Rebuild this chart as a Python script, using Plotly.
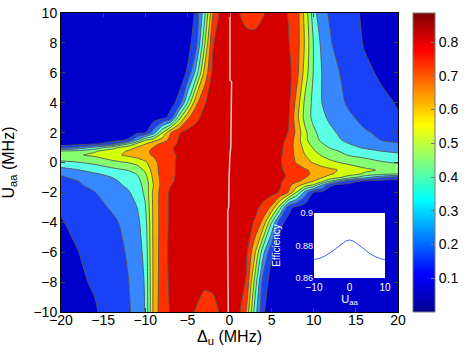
import plotly.graph_objects as go

# ---------------- data ----------------
delta_u = [-20, -18, -16, -14, -12, -11, -10, -9, -8, -7, -6, -5, -4, -3, -2, -1,
           0, 1, 2, 3, 4, 5, 6, 7, 8, 9, 10, 11, 12, 14, 16, 18, 20]
u_aa = [-10, -8, -6, -4, -3, -2, -1.5, -1.25, -1, -0.75, -0.5, 0,
        0.5, 0.75, 1, 1.25, 1.5, 2, 3, 4, 6, 8, 10]

row_m10 = [0.055, 0.075, 0.09, 0.14, 0.19, 0.23, 0.305, 0.63, 0.765, 0.805, 0.835, 0.82, 0.795, 0.775, 0.775, 0.81,
           0.845, 0.83, 0.69, 0.36, 0.11, 0.05, 0.035, 0.03, 0.03, 0.03, 0.03, 0.03, 0.03, 0.03, 0.03, 0.03, 0.03]
row_m8 = [0.065, 0.085, 0.11, 0.15, 0.198, 0.24, 0.31, 0.63, 0.755, 0.815, 0.84, 0.845, 0.83, 0.81, 0.815, 0.845,
          0.86, 0.85, 0.79, 0.47, 0.15, 0.06, 0.035, 0.03, 0.03, 0.03, 0.03, 0.03, 0.03, 0.03, 0.03, 0.03, 0.03]
row_m6 = [0.08, 0.098, 0.13, 0.16, 0.21, 0.25, 0.33, 0.63, 0.75, 0.825, 0.84, 0.85, 0.86, 0.865, 0.87, 0.87,
          0.87, 0.86, 0.82, 0.62, 0.33, 0.11, 0.05, 0.035, 0.03, 0.03, 0.03, 0.03, 0.03, 0.03, 0.03, 0.03, 0.03]
row_m4 = [0.095, 0.12, 0.15, 0.18, 0.23, 0.27, 0.36, 0.63, 0.745, 0.82, 0.84, 0.85, 0.86, 0.87, 0.875, 0.875,
          0.875, 0.865, 0.845, 0.79, 0.67, 0.405, 0.125, 0.07, 0.045, 0.035, 0.03, 0.03, 0.03, 0.03, 0.03, 0.03, 0.03]
row_m3 = [0.11, 0.14, 0.17, 0.21, 0.26, 0.298, 0.39, 0.63, 0.745, 0.82, 0.84, 0.85, 0.86, 0.87, 0.875, 0.875,
          0.875, 0.87, 0.855, 0.83, 0.77, 0.68, 0.45, 0.13, 0.07, 0.045, 0.035, 0.03, 0.03, 0.03, 0.03, 0.03, 0.03]
row_m2 = [0.14, 0.17, 0.198, 0.24, 0.29, 0.34, 0.42, 0.63, 0.745, 0.815, 0.83, 0.84, 0.855, 0.865, 0.87, 0.875,
          0.875, 0.87, 0.865, 0.86, 0.85, 0.83, 0.79, 0.695, 0.49, 0.25, 0.09, 0.075, 0.06, 0.04, 0.035, 0.03, 0.03]
row_m1p5 = [0.16, 0.19, 0.225, 0.265, 0.32, 0.36, 0.43, 0.605, 0.735, 0.795, 0.825, 0.84, 0.855, 0.865, 0.87, 0.875,
            0.875, 0.875, 0.87, 0.865, 0.855, 0.84, 0.81, 0.73, 0.64, 0.56, 0.49, 0.305, 0.11, 0.07, 0.05, 0.04, 0.035]
row_m1p25 = [0.17, 0.198, 0.24, 0.28, 0.33, 0.37, 0.44, 0.62, 0.735, 0.785, 0.82, 0.84, 0.855, 0.865, 0.87, 0.875,
             0.875, 0.875, 0.87, 0.865, 0.855, 0.84, 0.81, 0.77, 0.72, 0.66, 0.595, 0.52, 0.395, 0.15, 0.08, 0.06, 0.05]
row_m1 = [0.19, 0.22, 0.26, 0.298, 0.35, 0.38, 0.46, 0.63, 0.735, 0.78, 0.82, 0.84, 0.855, 0.865, 0.87, 0.875,
          0.875, 0.875, 0.87, 0.865, 0.855, 0.84, 0.815, 0.79, 0.76, 0.705, 0.65, 0.605, 0.56, 0.46, 0.33, 0.22, 0.15]
row_m0p75 = [0.21, 0.25, 0.29, 0.33, 0.37, 0.405, 0.49, 0.64, 0.74, 0.78, 0.815, 0.84, 0.855, 0.865, 0.87, 0.875,
             0.875, 0.875, 0.87, 0.865, 0.855, 0.84, 0.815, 0.79, 0.77, 0.72, 0.68, 0.64, 0.61, 0.55, 0.49, 0.44, 0.42]
row_m0p5 = [0.26, 0.295, 0.34, 0.37, 0.405, 0.44, 0.52, 0.65, 0.74, 0.78, 0.815, 0.84, 0.855, 0.865, 0.87, 0.875,
            0.875, 0.875, 0.87, 0.865, 0.855, 0.84, 0.81, 0.78, 0.75, 0.71, 0.68, 0.645, 0.62, 0.57, 0.52, 0.49, 0.47]
row_0 = [0.38, 0.395, 0.42, 0.47, 0.505, 0.53, 0.58, 0.67, 0.74, 0.78, 0.815, 0.84, 0.855, 0.865, 0.87, 0.875,
         0.875, 0.875, 0.875, 0.87, 0.865, 0.84, 0.81, 0.75, 0.69, 0.635, 0.59, 0.55, 0.52, 0.48, 0.445, 0.41, 0.39]
row_p0p5 = [0.47, 0.49, 0.52, 0.57, 0.62, 0.645, 0.68, 0.71, 0.75, 0.78, 0.81, 0.84, 0.855, 0.865, 0.87, 0.875,
            0.875, 0.875, 0.875, 0.875, 0.87, 0.84, 0.815, 0.75, 0.67, 0.598, 0.535, 0.49, 0.46, 0.398, 0.37, 0.345, 0.325]
row_p0p75 = [0.42, 0.44, 0.49, 0.55, 0.61, 0.64, 0.68, 0.72, 0.77, 0.79, 0.815, 0.84, 0.855, 0.865, 0.87, 0.875,
             0.875, 0.875, 0.875, 0.875, 0.87, 0.845, 0.82, 0.75, 0.665, 0.58, 0.51, 0.465, 0.43, 0.37, 0.33, 0.302, 0.28]
row_p1 = [0.15, 0.22, 0.33, 0.46, 0.56, 0.605, 0.65, 0.705, 0.76, 0.79, 0.815, 0.84, 0.855, 0.865, 0.87, 0.875,
          0.875, 0.875, 0.875, 0.875, 0.87, 0.85, 0.825, 0.75, 0.66, 0.565, 0.49, 0.44, 0.39, 0.33, 0.29, 0.26, 0.235]
row_p1p25 = [0.05, 0.06, 0.08, 0.15, 0.395, 0.52, 0.595, 0.66, 0.72, 0.77, 0.81, 0.84, 0.855, 0.865, 0.87, 0.875,
             0.875, 0.875, 0.875, 0.875, 0.87, 0.855, 0.83, 0.755, 0.655, 0.545, 0.455, 0.405, 0.36, 0.305, 0.26, 0.23, 0.21]
row_p1p5 = [0.035, 0.04, 0.05, 0.07, 0.11, 0.3, 0.49, 0.56, 0.64, 0.73, 0.81, 0.84, 0.855, 0.865, 0.87, 0.875,
            0.875, 0.875, 0.875, 0.875, 0.87, 0.86, 0.84, 0.77, 0.65, 0.525, 0.435, 0.38, 0.34, 0.28, 0.24, 0.198, 0.18]
row_p2 = [0.03, 0.03, 0.035, 0.04, 0.06, 0.075, 0.09, 0.25, 0.49, 0.695, 0.79, 0.83, 0.85, 0.86, 0.865, 0.87,
          0.875, 0.875, 0.875, 0.875, 0.875, 0.87, 0.85, 0.795, 0.67, 0.52, 0.42, 0.36, 0.32, 0.26, 0.21, 0.185, 0.165]
row_p3 = [0.03, 0.03, 0.03, 0.03, 0.03, 0.03, 0.035, 0.045, 0.07, 0.13, 0.45, 0.68, 0.77, 0.83, 0.855, 0.87,
          0.875, 0.875, 0.875, 0.875, 0.87, 0.865, 0.855, 0.815, 0.63, 0.46, 0.37, 0.32, 0.28, 0.22, 0.175, 0.135, 0.105]
row_p4 = [0.03, 0.03, 0.03, 0.03, 0.03, 0.03, 0.03, 0.035, 0.045, 0.07, 0.125, 0.4, 0.67, 0.79, 0.845, 0.865,
          0.875, 0.875, 0.875, 0.87, 0.865, 0.86, 0.85, 0.825, 0.66, 0.47, 0.37, 0.298, 0.26, 0.19, 0.145, 0.115, 0.095]
row_p6 = [0.03, 0.03, 0.03, 0.03, 0.03, 0.03, 0.03, 0.03, 0.03, 0.035, 0.05, 0.11, 0.33, 0.62, 0.82, 0.86,
          0.87, 0.87, 0.865, 0.86, 0.86, 0.855, 0.845, 0.835, 0.73, 0.55, 0.39, 0.295, 0.24, 0.165, 0.115, 0.09, 0.075]
row_p8 = [0.03, 0.03, 0.03, 0.03, 0.03, 0.03, 0.03, 0.03, 0.03, 0.03, 0.035, 0.06, 0.15, 0.47, 0.79, 0.85,
          0.86, 0.845, 0.825, 0.82, 0.83, 0.845, 0.84, 0.805, 0.745, 0.58, 0.39, 0.27, 0.205, 0.14, 0.095, 0.075, 0.065]
row_p10 = [0.03, 0.03, 0.03, 0.03, 0.03, 0.03, 0.03, 0.03, 0.03, 0.03, 0.035, 0.05, 0.11, 0.36, 0.69, 0.83,
           0.845, 0.805, 0.775, 0.775, 0.795, 0.82, 0.83, 0.795, 0.745, 0.56, 0.34, 0.22, 0.19, 0.125, 0.09, 0.075, 0.06]

efficiency = [row_m10, row_m8, row_m6, row_m4, row_m3, row_m2, row_m1p5, row_m1p25, row_m1,
              row_m0p75, row_m0p5, row_0, row_p0p5, row_p0p75, row_p1, row_p1p25, row_p1p5,
              row_p2, row_p3, row_p4, row_p6, row_p8, row_p10]

# pale line near zero detuning
ridge_u = [10, 7, 5.5, 5.4, 3, 1, 0.5, 0, -1, -3, -3.2, -6, -10]
ridge_d = [0.05, 0.05, 0.05, 0.25, 0.2, 0.15, 0.05, 0.0, -0.05, -0.1, -0.2, -0.2, -0.15]

# inset curve
inset_u = [-10, -9, -8, -7, -6, -5, -4, -3, -2, -1, 0, 1, 2, 3, 4, 5, 6, 7, 8, 9, 10]
inset_eff = [0.8712, 0.8717, 0.8724, 0.8734, 0.8746, 0.8762, 0.8779, 0.8797, 0.8814, 0.8828, 0.8834,
             0.8828, 0.8814, 0.8797, 0.8779, 0.8762, 0.8746, 0.8734, 0.8724, 0.8717, 0.8712]

x_ticks = [-20, -15, -10, -5, 0, 5, 10, 15, 20]
y_ticks = [-10, -8, -6, -4, -2, 0, 2, 4, 6, 8, 10]
cbar_ticks = [0.1, 0.2, 0.3, 0.4, 0.5, 0.6, 0.7, 0.8]

# ---------------- styles ----------------
band_colors = ["rgb(0,0,205)", "rgb(25,65,245)", "rgb(55,135,255)", "rgb(90,255,230)",
               "rgb(135,255,115)", "rgb(210,255,10)", "rgb(255,172,0)", "rgb(255,50,0)",
               "rgb(212,0,0)"]
edges = [0.0] + [(k + 0.5) / 8 for k in range(8)] + [1.0]
band_scale = []
for k, c in enumerate(band_colors):
    band_scale.append([edges[k], c])
    band_scale.append([edges[k + 1], c])

jet = [[0, "rgb(0,0,143)"], [0.125, "rgb(0,0,255)"], [0.375, "rgb(0,255,255)"],
       [0.625, "rgb(255,255,0)"], [0.875, "rgb(255,0,0)"], [1, "rgb(128,0,0)"]]

FONT = "Liberation Sans, Arial, Helvetica, sans-serif"

fig = go.Figure()
fig.add_trace(go.Contour(
    x=delta_u, y=u_aa, z=efficiency,
    autocontour=False,
    contours=dict(start=0.1, end=0.8, size=0.1, coloring="fill"),
    colorscale=band_scale, zmin=0.05, zmax=0.85,
    line=dict(color="rgb(85,85,85)", width=0.9, smoothing=0.7),
    showscale=False, hoverinfo="skip"))
fig.add_trace(go.Scatter(x=ridge_d, y=ridge_u, mode="lines",
                         line=dict(color="rgb(238,200,200)", width=1.5), hoverinfo="skip"))
fig.add_trace(go.Scatter(
    x=[None], y=[None], mode="markers",
    marker=dict(color=[0.4], cmin=0.0, cmax=0.886, colorscale=jet, showscale=True,
                colorbar=dict(x=1.0445, xanchor="left", y=0.5, yanchor="middle",
                              len=1.0, lenmode="fraction", thickness=22, thicknessmode="pixels",
                              xpad=0, ypad=0, outlinewidth=1, outlinecolor="rgb(120,120,120)",
                              tickvals=cbar_ticks, ticks="inside", ticklen=4,
                              tickcolor="rgb(120,120,120)",
                              tickfont=dict(family=FONT, size=14, color="black"))),
    hoverinfo="skip"))
fig.add_trace(go.Scatter(x=inset_u, y=inset_eff, mode="lines", xaxis="x2", yaxis="y2",
                         line=dict(color="rgb(70,100,255)", width=1), hoverinfo="skip"))

fig.update_layout(
    width=468, height=358,
    margin=dict(l=61, r=70, t=13, b=46, autoexpand=False),
    paper_bgcolor="white", plot_bgcolor="white",
    showlegend=False,
    font=dict(family=FONT, size=12, color="black"),
    xaxis=dict(range=[-20, 20], tickvals=x_ticks, ticks="inside", ticklen=4,
               showline=True, linecolor="black", linewidth=1, mirror="ticks",
               showgrid=False, zeroline=False, ticklabelstandoff=-5, automargin=False,
               tickfont=dict(family=FONT, size=14),
               title=dict(text="Δ<sub>u</sub> (MHz)", font=dict(family=FONT, size=16), standoff=3)),
    yaxis=dict(range=[-10, 10], tickvals=y_ticks, ticks="inside", ticklen=4,
               showline=True, linecolor="black", linewidth=1, mirror="ticks",
               showgrid=False, zeroline=False, automargin=False,
               tickfont=dict(family=FONT, size=14),
               title=dict(text="U<sub>aa</sub> (MHz)", font=dict(family=FONT, size=16), standoff=16)),
    xaxis2=dict(domain=[0.7507, 0.9614], anchor="y2", range=[-10, 10], tickvals=[-10, 0, 10],
                showgrid=False, zeroline=False, showline=False, ticks="", ticklabelstandoff=2,
                automargin=False,
                tickfont=dict(family=FONT, size=10, color="white"),
                title=dict(text="U<sub>aa</sub>", font=dict(family=FONT, size=11, color="white"), standoff=0)),
    yaxis2=dict(domain=[0.1137, 0.3311], anchor="x2", range=[0.86, 0.9], tickvals=[0.86, 0.88, 0.9],
                ticktext=["0.86", "0.88", "0.9"], automargin=False,
                showgrid=False, zeroline=False, showline=False, ticks="",
                tickfont=dict(family=FONT, size=9, color="white"),
                title=dict(text="Efficiency", font=dict(family=FONT, size=10, color="white"), standoff=12)),
    shapes=[dict(type="rect", xref="x2 domain", yref="y2 domain", x0=0, x1=1, y0=0, y1=1,
                 fillcolor="white", line=dict(width=0), layer="below")],
)

fig.write_html("out.html", config={"displayModeBar": False},
               post_script="document.body.style.margin='0';")
